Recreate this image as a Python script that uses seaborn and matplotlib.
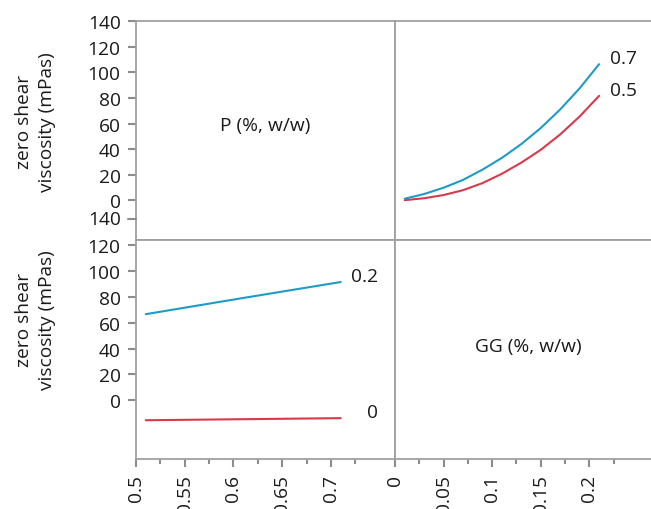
import matplotlib
matplotlib.use("Agg")
import pandas as pd
import matplotlib.pyplot as plt
from matplotlib.ticker import FixedLocator
import seaborn as sns

# top right: viscosity vs GG at two P levels
GG_VALUES = [0.01, 0.03, 0.05, 0.07, 0.09, 0.11, 0.13, 0.15, 0.17, 0.19, 0.21]
VISC_P05 = [0.2, 1.7, 4.2, 8.0, 13.5, 20.8, 29.5, 39.5, 51.5, 65.5, 81.6]
VISC_P07 = [1.3, 5.0, 9.9, 16.0, 24.0, 33.2, 44.0, 56.5, 71.0, 87.5, 106.3]
P_LEVEL_LABELS = ["0.5", "0.7"]

# bottom left: viscosity vs P at two GG levels
P_VALUES = [0.51, 0.61, 0.71]
VISC_GG0 = [-15.3, -14.5, -13.7]
VISC_GG02 = [66.5, 79.0, 91.3]
GG_LEVEL_LABELS = ["0", "0.2"]

Y_TICKS_TOP = [0, 20, 40, 60, 80, 100, 120, 140]
Y_TICKS_BOTTOM = [0, 20, 40, 60, 80, 100, 120]
P_TICKS = [0.5, 0.55, 0.6, 0.65, 0.7]
P_TICK_LABELS = ["0.5", "0.55", "0.6", "0.65", "0.7"]
P_MINOR = [0.525, 0.575, 0.625, 0.675, 0.725]
GG_TICKS = [0, 0.05, 0.1, 0.15, 0.2]
GG_TICK_LABELS = ["0", "0.05", "0.1", "0.15", "0.2"]
GG_MINOR = [0.025, 0.075, 0.125, 0.175, 0.225]

Y_TITLE = "zero shear\nviscosity (mPas)"
RED = "#d9394b"
BLUE = "#1c9cc6"
GRAY = "#a0a0a0"
TICK_GRAY = "#8c8c8c"
INK = "#1a1a1a"
FS = 13.8

sns.set_theme(style="white")
plt.rcParams["font.family"] = ["Open Sans", "DejaVu Sans"]
plt.rcParams["xtick.bottom"] = True
plt.rcParams["ytick.left"] = True

df_gg = pd.DataFrame({
    "GG": GG_VALUES * 2,
    "visc": VISC_P05 + VISC_P07,
    "P": [P_LEVEL_LABELS[0]] * len(GG_VALUES) + [P_LEVEL_LABELS[1]] * len(GG_VALUES),
})
df_p = pd.DataFrame({
    "P": P_VALUES * 2,
    "visc": VISC_GG0 + VISC_GG02,
    "GG": [GG_LEVEL_LABELS[0]] * len(P_VALUES) + [GG_LEVEL_LABELS[1]] * len(P_VALUES),
})

fig = plt.figure(figsize=(6.51, 5.10), dpi=100)
W, H = 651, 510
L, M, R = 136 / W, 395 / W, 1.0
T, MID, B = 1 - 22 / H, 1 - 240.5 / H, 1 - 460 / H

ax_tl = fig.add_axes([L, MID, M - L, T - MID])
ax_tr = fig.add_axes([M, MID, R - M, T - MID])
ax_bl = fig.add_axes([L, B, M - L, MID - B])
ax_br = fig.add_axes([M, B, R - M, MID - B])

palette = {P_LEVEL_LABELS[0]: RED, P_LEVEL_LABELS[1]: BLUE}
sns.lineplot(data=df_gg, x="GG", y="visc", hue="P", palette=palette,
             linewidth=1.5, legend=False, ax=ax_tr)
palette = {GG_LEVEL_LABELS[0]: RED, GG_LEVEL_LABELS[1]: BLUE}
sns.lineplot(data=df_p, x="P", y="visc", hue="GG", palette=palette,
             linewidth=1.5, legend=False, ax=ax_bl)

# level labels at the end of each line
for lab, vals in zip(P_LEVEL_LABELS, [VISC_P05, VISC_P07]):
    ax_tr.annotate(lab, (GG_VALUES[-1], vals[-1]), xytext=(27, 4.5),
                   textcoords="offset points", ha="right", va="center",
                   fontsize=FS, color=INK, annotation_clip=False)
for lab, vals in zip(GG_LEVEL_LABELS, [VISC_GG0, VISC_GG02]):
    ax_bl.annotate(lab, (P_VALUES[-1], vals[-1]), xytext=(27, 4.5),
                   textcoords="offset points", ha="right", va="center",
                   fontsize=FS, color=INK, annotation_clip=False)

for ax in (ax_tl, ax_tr):
    ax.set_ylim(-30.5, 140)
for ax in (ax_bl, ax_br):
    ax.set_ylim(-45.2, 124.1)
for ax in (ax_tl, ax_bl):
    ax.set_xlim(0.5, 0.7657)
for ax in (ax_tr, ax_br):
    ax.set_xlim(0, 0.2634)

ax_tl.set_xticks([])
ax_tl.set_yticks(Y_TICKS_TOP)
ax_tl.set_yticklabels([str(v) for v in Y_TICKS_TOP])
ax_tr.set_xticks([])
ax_tr.set_yticks([])
ax_br.set_yticks([])

ax_bl.set_yticks(Y_TICKS_BOTTOM)
ax_bl.set_yticklabels([str(v) for v in Y_TICKS_BOTTOM])
ax_bl.set_xticks(P_TICKS)
ax_bl.set_xticklabels(P_TICK_LABELS, rotation=90)
ax_bl.xaxis.set_minor_locator(FixedLocator(P_MINOR))
ax_br.set_xticks(GG_TICKS)
ax_br.set_xticklabels(GG_TICK_LABELS, rotation=90)
ax_br.xaxis.set_minor_locator(FixedLocator(GG_MINOR))

for ax in (ax_tl, ax_tr, ax_bl, ax_br):
    ax.set_xlabel("")
    ax.set_ylabel("")
    ax.set_facecolor("white")
    for sp in ax.spines.values():
        sp.set_color(GRAY)
        sp.set_linewidth(1.3)
    ax.tick_params(axis="both", which="both", left=True, bottom=True,
                   color=TICK_GRAY, width=1.5, labelsize=FS, labelcolor=INK,
                   pad=5)
    ax.tick_params(axis="both", which="major", length=6)
    ax.tick_params(axis="both", which="minor", length=3.5)
for ax in (ax_tr, ax_br):
    ax.spines["right"].set_visible(False)

# the bottom axis' 140 label spills above its frame
ytr = ax_bl.get_yaxis_transform()
tick_frac = 6 * 100 / 72 / (ax_bl.get_position().width * W)
ax_bl.plot([-tick_frac, 0], [140, 140], transform=ytr, color=TICK_GRAY,
           linewidth=1.5, clip_on=False, zorder=5)
ax_bl.annotate("140", (-tick_frac, 140), xycoords=ytr, xytext=(-5, 0),
               textcoords="offset points", ha="right", va="center",
               fontsize=FS, color=INK, annotation_clip=False)

ax_tl.text(0.5, 0.524, "P (%, w/w)", transform=ax_tl.transAxes,
           ha="center", va="center", fontsize=FS, color=INK)
ax_br.text(0.52, 0.515, "GG (%, w/w)", transform=ax_br.transAxes,
           ha="center", va="center", fontsize=FS, color=INK)

for yc in (122, 320):
    fig.text(35.5 / W, 1 - yc / H, Y_TITLE, rotation=90, ha="center",
             va="center", multialignment="center", linespacing=1.35,
             fontsize=FS, color=INK)

fig.savefig("out.png", dpi=100, facecolor="white")
